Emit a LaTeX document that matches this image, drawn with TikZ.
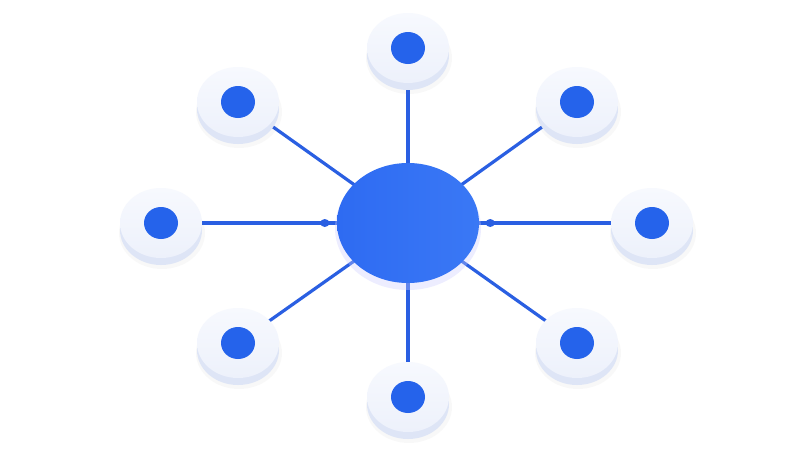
\documentclass[tikz,border=0pt]{standalone}
\usetikzlibrary{backgrounds,shapes.geometric}
\definecolor{hubblue}{HTML}{2E6BF2}
\definecolor{hublight}{HTML}{3A78F5}
\definecolor{linkblue}{HTML}{2A5FE2}
\definecolor{dotblue}{HTML}{2563EB}
\definecolor{disctop}{HTML}{F7F9FE}
\definecolor{disctopb}{HTML}{EDF1FB}
\definecolor{discside}{HTML}{DEE5F6}
\tikzset{
  disc/.style={ellipse, minimum width=82pt, minimum height=70pt, inner sep=0pt, top color=disctop, bottom color=disctopb},
  dotnode/.style={ellipse, minimum width=34pt, minimum height=32pt, inner sep=0pt, fill=dotblue},
  hub/.style={ellipse, minimum width=142pt, minimum height=120pt, inner sep=0pt, left color=hubblue, right color=hublight},
  link/.style={draw=linkblue, line width=3.2pt},
  joint/.style={ellipse, fill=linkblue, minimum width=9pt, minimum height=8pt, inner sep=0pt}
}
\begin{document}
\begin{tikzpicture}[x=1pt,y=-1pt]
\useasboundingbox (0,0) rectangle (800,450);
% hub shadow
\fill[blue!20!white, opacity=0.35] (408,228) ellipse (73 and 62);
\node[hub] (c) at (408,223) {};
\foreach \n/\x/\y in {t/408/48, ul/238/102, ur/577/102, l/161/223, r/652/223, ll/238/343, lr/577/343, b/408/397} {
  \fill[gray, opacity=0.05] (\x+1,\y+10) ellipse (43 and 36);
  \fill[discside] (\x,\y+7) ellipse (41 and 35);
  \fill[discside] (\x-41,\y) rectangle (\x+41,\y+7);
  \node[disc] (\n) at (\x,\y) {};
  \node[dotnode] (\n d) at (\n) {};
}
\begin{scope}[on background layer]
  \fill[white] (0,0) rectangle (800,450);
  \foreach \n in {t, ul, ur, l, r, ll, lr, b} {
    \draw[link] (c.center) -- (\n.center);
  }
\end{scope}
\node[joint] (jl) at ([xshift=-12pt]c.west) {};
\node[joint] (jr) at ([xshift=11pt]c.east) {};
\end{tikzpicture}
\end{document}
